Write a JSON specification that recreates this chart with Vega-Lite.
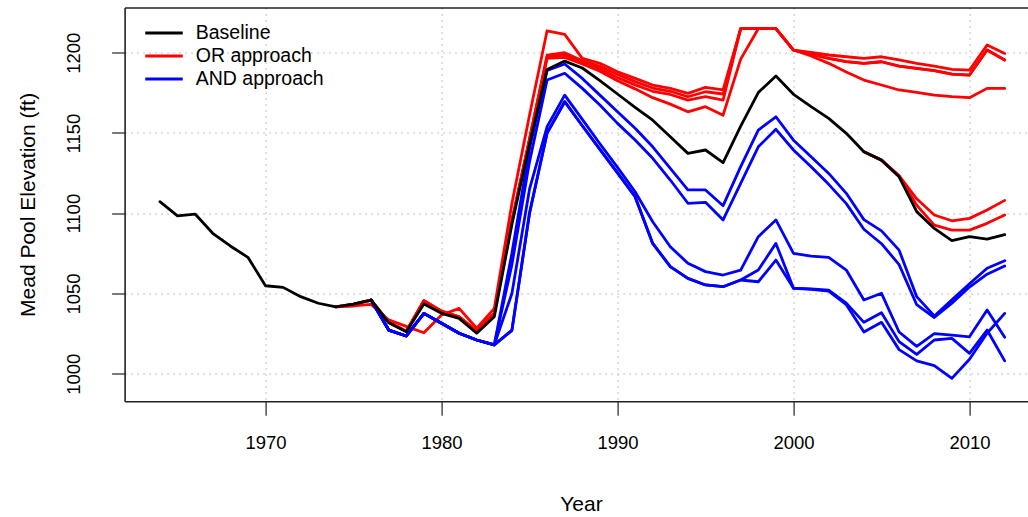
{
"$schema": "https://vega.github.io/schema/vega-lite/v6.json",
"width": 903.4, "height": 393.8,
"autosize": {"type": "none"},
"padding": {"left": 124.6, "top": 7.5, "right": 0, "bottom": 115.7},
"background": "white",
"config": {"view": {"stroke": null}, "font": "Liberation Sans"},
"data": {"values": [
{"run":"base","grp":"Baseline","year":1964,"ft":1107.2},{"run":"base","grp":"Baseline","year":1965,"ft":1098.4},{"run":"base","grp":"Baseline","year":1966,"ft":1099.5},{"run":"base","grp":"Baseline","year":1967,"ft":1087.5},{"run":"base","grp":"Baseline","year":1968,"ft":1079.6},{"run":"base","grp":"Baseline","year":1969,"ft":1072.5},{"run":"base","grp":"Baseline","year":1970,"ft":1054.8},{"run":"base","grp":"Baseline","year":1971,"ft":1053.8},{"run":"base","grp":"Baseline","year":1972,"ft":1048.0},{"run":"base","grp":"Baseline","year":1973,"ft":1043.9},{"run":"base","grp":"Baseline","year":1974,"ft":1041.7},{"run":"base","grp":"Baseline","year":1975,"ft":1043.4},{"run":"base","grp":"Baseline","year":1976,"ft":1045.9},{"run":"base","grp":"Baseline","year":1977,"ft":1031.8},{"run":"base","grp":"Baseline","year":1978,"ft":1026.2},{"run":"base","grp":"Baseline","year":1979,"ft":1043.4},{"run":"base","grp":"Baseline","year":1980,"ft":1037.6},{"run":"base","grp":"Baseline","year":1981,"ft":1034.5},{"run":"base","grp":"Baseline","year":1982,"ft":1025.2},{"run":"base","grp":"Baseline","year":1983,"ft":1035.5},{"run":"base","grp":"Baseline","year":1984,"ft":1093},{"run":"base","grp":"Baseline","year":1985,"ft":1143},{"run":"base","grp":"Baseline","year":1986,"ft":1189.6},{"run":"base","grp":"Baseline","year":1987,"ft":1194.8},{"run":"base","grp":"Baseline","year":1988,"ft":1190.5},{"run":"base","grp":"Baseline","year":1989,"ft":1182.6},{"run":"base","grp":"Baseline","year":1990,"ft":1174.3},{"run":"base","grp":"Baseline","year":1991,"ft":1166.0},{"run":"base","grp":"Baseline","year":1992,"ft":1158.0},{"run":"base","grp":"Baseline","year":1993,"ft":1147.7},{"run":"base","grp":"Baseline","year":1994,"ft":1137.3},{"run":"base","grp":"Baseline","year":1995,"ft":1139.4},{"run":"base","grp":"Baseline","year":1996,"ft":1131.5},{"run":"base","grp":"Baseline","year":1997,"ft":1154.3},{"run":"base","grp":"Baseline","year":1998,"ft":1175.2},{"run":"base","grp":"Baseline","year":1999,"ft":1185.5},{"run":"base","grp":"Baseline","year":2000,"ft":1174.1},{"run":"base","grp":"Baseline","year":2001,"ft":1166.4},{"run":"base","grp":"Baseline","year":2002,"ft":1159.1},{"run":"base","grp":"Baseline","year":2003,"ft":1149.8},{"run":"base","grp":"Baseline","year":2004,"ft":1138.3},{"run":"base","grp":"Baseline","year":2005,"ft":1133.1},{"run":"base","grp":"Baseline","year":2006,"ft":1122.7},{"run":"base","grp":"Baseline","year":2007,"ft":1101},{"run":"base","grp":"Baseline","year":2008,"ft":1090.5},{"run":"base","grp":"Baseline","year":2009,"ft":1082.9},{"run":"base","grp":"Baseline","year":2010,"ft":1085.4},{"run":"base","grp":"Baseline","year":2011,"ft":1083.9},{"run":"base","grp":"Baseline","year":2012,"ft":1086.6},

{"run":"or1","grp":"OR approach","year":1974,"ft":1041.7},{"run":"or1","grp":"OR approach","year":1975,"ft":1042.2},{"run":"or1","grp":"OR approach","year":1976,"ft":1043.2},{"run":"or1","grp":"OR approach","year":1977,"ft":1033.5},{"run":"or1","grp":"OR approach","year":1978,"ft":1029.5},{"run":"or1","grp":"OR approach","year":1979,"ft":1025.5},{"run":"or1","grp":"OR approach","year":1980,"ft":1036.6},{"run":"or1","grp":"OR approach","year":1981,"ft":1040.7},{"run":"or1","grp":"OR approach","year":1982,"ft":1028.3},{"run":"or1","grp":"OR approach","year":1983,"ft":1040.7},{"run":"or1","grp":"OR approach","year":1984,"ft":1106},{"run":"or1","grp":"OR approach","year":1985,"ft":1161},{"run":"or1","grp":"OR approach","year":1986,"ft":1213.7},{"run":"or1","grp":"OR approach","year":1987,"ft":1211.5},{"run":"or1","grp":"OR approach","year":1988,"ft":1196.5},{"run":"or1","grp":"OR approach","year":1989,"ft":1193.4},{"run":"or1","grp":"OR approach","year":1990,"ft":1188.2},{"run":"or1","grp":"OR approach","year":1991,"ft":1184},{"run":"or1","grp":"OR approach","year":1992,"ft":1179.9},{"run":"or1","grp":"OR approach","year":1993,"ft":1177.8},{"run":"or1","grp":"OR approach","year":1994,"ft":1174.7},{"run":"or1","grp":"OR approach","year":1995,"ft":1178.4},{"run":"or1","grp":"OR approach","year":1996,"ft":1176.8},{"run":"or1","grp":"OR approach","year":1997,"ft":1215},{"run":"or1","grp":"OR approach","year":1998,"ft":1215},{"run":"or1","grp":"OR approach","year":1999,"ft":1215},{"run":"or1","grp":"OR approach","year":2000,"ft":1201.7},{"run":"or1","grp":"OR approach","year":2001,"ft":1200.3},{"run":"or1","grp":"OR approach","year":2002,"ft":1198.6},{"run":"or1","grp":"OR approach","year":2003,"ft":1197.5},{"run":"or1","grp":"OR approach","year":2004,"ft":1196.5},{"run":"or1","grp":"OR approach","year":2005,"ft":1197.5},{"run":"or1","grp":"OR approach","year":2006,"ft":1195.5},{"run":"or1","grp":"OR approach","year":2007,"ft":1193.4},{"run":"or1","grp":"OR approach","year":2008,"ft":1191.7},{"run":"or1","grp":"OR approach","year":2009,"ft":1189.7},{"run":"or1","grp":"OR approach","year":2010,"ft":1189.2},{"run":"or1","grp":"OR approach","year":2011,"ft":1204.8},{"run":"or1","grp":"OR approach","year":2012,"ft":1199.6},

{"run":"or2","grp":"OR approach","year":1974,"ft":1041.7},{"run":"or2","grp":"OR approach","year":1975,"ft":1043.4},{"run":"or2","grp":"OR approach","year":1976,"ft":1045.9},{"run":"or2","grp":"OR approach","year":1977,"ft":1032},{"run":"or2","grp":"OR approach","year":1978,"ft":1026.5},{"run":"or2","grp":"OR approach","year":1979,"ft":1045.5},{"run":"or2","grp":"OR approach","year":1980,"ft":1039},{"run":"or2","grp":"OR approach","year":1981,"ft":1035.5},{"run":"or2","grp":"OR approach","year":1982,"ft":1026.5},{"run":"or2","grp":"OR approach","year":1983,"ft":1037.5},{"run":"or2","grp":"OR approach","year":1984,"ft":1095},{"run":"or2","grp":"OR approach","year":1985,"ft":1146},{"run":"or2","grp":"OR approach","year":1986,"ft":1198.5},{"run":"or2","grp":"OR approach","year":1987,"ft":1200},{"run":"or2","grp":"OR approach","year":1988,"ft":1195},{"run":"or2","grp":"OR approach","year":1989,"ft":1191.5},{"run":"or2","grp":"OR approach","year":1990,"ft":1186.5},{"run":"or2","grp":"OR approach","year":1991,"ft":1182},{"run":"or2","grp":"OR approach","year":1992,"ft":1178},{"run":"or2","grp":"OR approach","year":1993,"ft":1176},{"run":"or2","grp":"OR approach","year":1994,"ft":1172.6},{"run":"or2","grp":"OR approach","year":1995,"ft":1175.7},{"run":"or2","grp":"OR approach","year":1996,"ft":1174.3},{"run":"or2","grp":"OR approach","year":1997,"ft":1215},{"run":"or2","grp":"OR approach","year":1998,"ft":1215},{"run":"or2","grp":"OR approach","year":1999,"ft":1215},{"run":"or2","grp":"OR approach","year":2000,"ft":1201.7},{"run":"or2","grp":"OR approach","year":2001,"ft":1199.2},{"run":"or2","grp":"OR approach","year":2002,"ft":1196.5},{"run":"or2","grp":"OR approach","year":2003,"ft":1194.5},{"run":"or2","grp":"OR approach","year":2004,"ft":1193.4},{"run":"or2","grp":"OR approach","year":2005,"ft":1194.4},{"run":"or2","grp":"OR approach","year":2006,"ft":1191.7},{"run":"or2","grp":"OR approach","year":2007,"ft":1190.3},{"run":"or2","grp":"OR approach","year":2008,"ft":1188.8},{"run":"or2","grp":"OR approach","year":2009,"ft":1186.7},{"run":"or2","grp":"OR approach","year":2010,"ft":1186.1},{"run":"or2","grp":"OR approach","year":2011,"ft":1201.7},{"run":"or2","grp":"OR approach","year":2012,"ft":1195.5},

{"run":"or3","grp":"OR approach","year":1974,"ft":1041.7},{"run":"or3","grp":"OR approach","year":1975,"ft":1043.4},{"run":"or3","grp":"OR approach","year":1976,"ft":1045.9},{"run":"or3","grp":"OR approach","year":1977,"ft":1032},{"run":"or3","grp":"OR approach","year":1978,"ft":1026.5},{"run":"or3","grp":"OR approach","year":1979,"ft":1045.5},{"run":"or3","grp":"OR approach","year":1980,"ft":1039},{"run":"or3","grp":"OR approach","year":1981,"ft":1035.5},{"run":"or3","grp":"OR approach","year":1982,"ft":1026.5},{"run":"or3","grp":"OR approach","year":1983,"ft":1037.5},{"run":"or3","grp":"OR approach","year":1984,"ft":1095},{"run":"or3","grp":"OR approach","year":1985,"ft":1146},{"run":"or3","grp":"OR approach","year":1986,"ft":1197.5},{"run":"or3","grp":"OR approach","year":1987,"ft":1198.6},{"run":"or3","grp":"OR approach","year":1988,"ft":1194},{"run":"or3","grp":"OR approach","year":1989,"ft":1190},{"run":"or3","grp":"OR approach","year":1990,"ft":1184.5},{"run":"or3","grp":"OR approach","year":1991,"ft":1180},{"run":"or3","grp":"OR approach","year":1992,"ft":1176},{"run":"or3","grp":"OR approach","year":1993,"ft":1174},{"run":"or3","grp":"OR approach","year":1994,"ft":1170.5},{"run":"or3","grp":"OR approach","year":1995,"ft":1172.6},{"run":"or3","grp":"OR approach","year":1996,"ft":1170.5},{"run":"or3","grp":"OR approach","year":1997,"ft":1215},{"run":"or3","grp":"OR approach","year":1998,"ft":1215},{"run":"or3","grp":"OR approach","year":1999,"ft":1215},{"run":"or3","grp":"OR approach","year":2000,"ft":1201.7},{"run":"or3","grp":"OR approach","year":2001,"ft":1198},{"run":"or3","grp":"OR approach","year":2002,"ft":1193.4},{"run":"or3","grp":"OR approach","year":2003,"ft":1188},{"run":"or3","grp":"OR approach","year":2004,"ft":1183},{"run":"or3","grp":"OR approach","year":2005,"ft":1179.9},{"run":"or3","grp":"OR approach","year":2006,"ft":1176.8},{"run":"or3","grp":"OR approach","year":2007,"ft":1175.3},{"run":"or3","grp":"OR approach","year":2008,"ft":1173.6},{"run":"or3","grp":"OR approach","year":2009,"ft":1172.6},{"run":"or3","grp":"OR approach","year":2010,"ft":1172},{"run":"or3","grp":"OR approach","year":2011,"ft":1177.8},{"run":"or3","grp":"OR approach","year":2012,"ft":1177.8},

{"run":"or4","grp":"OR approach","year":1974,"ft":1041.7},{"run":"or4","grp":"OR approach","year":1975,"ft":1043.4},{"run":"or4","grp":"OR approach","year":1976,"ft":1045.9},{"run":"or4","grp":"OR approach","year":1977,"ft":1032},{"run":"or4","grp":"OR approach","year":1978,"ft":1026.5},{"run":"or4","grp":"OR approach","year":1979,"ft":1045.5},{"run":"or4","grp":"OR approach","year":1980,"ft":1039},{"run":"or4","grp":"OR approach","year":1981,"ft":1035.5},{"run":"or4","grp":"OR approach","year":1982,"ft":1026.5},{"run":"or4","grp":"OR approach","year":1983,"ft":1037.5},{"run":"or4","grp":"OR approach","year":1984,"ft":1095},{"run":"or4","grp":"OR approach","year":1985,"ft":1146},{"run":"or4","grp":"OR approach","year":1986,"ft":1196.5},{"run":"or4","grp":"OR approach","year":1987,"ft":1197.1},{"run":"or4","grp":"OR approach","year":1988,"ft":1193},{"run":"or4","grp":"OR approach","year":1989,"ft":1188.5},{"run":"or4","grp":"OR approach","year":1990,"ft":1182.5},{"run":"or4","grp":"OR approach","year":1991,"ft":1177.5},{"run":"or4","grp":"OR approach","year":1992,"ft":1172},{"run":"or4","grp":"OR approach","year":1993,"ft":1168},{"run":"or4","grp":"OR approach","year":1994,"ft":1163.2},{"run":"or4","grp":"OR approach","year":1995,"ft":1166.4},{"run":"or4","grp":"OR approach","year":1996,"ft":1161.1},{"run":"or4","grp":"OR approach","year":1997,"ft":1196},{"run":"or4","grp":"OR approach","year":1998,"ft":1215},{"run":"or4","grp":"OR approach","year":1999,"ft":1215},{"run":"or4","grp":"OR approach","year":2000,"ft":1201.7},{"run":"or4","grp":"OR approach","year":2001,"ft":1199.2},{"run":"or4","grp":"OR approach","year":2002,"ft":1196.5},{"run":"or4","grp":"OR approach","year":2003,"ft":1194.5},{"run":"or4","grp":"OR approach","year":2004,"ft":1193.4},{"run":"or4","grp":"OR approach","year":2005,"ft":1194.4},{"run":"or4","grp":"OR approach","year":2006,"ft":1191.7},{"run":"or4","grp":"OR approach","year":2007,"ft":1190.3},{"run":"or4","grp":"OR approach","year":2008,"ft":1188.8},{"run":"or4","grp":"OR approach","year":2009,"ft":1186.7},{"run":"or4","grp":"OR approach","year":2010,"ft":1186.1},{"run":"or4","grp":"OR approach","year":2011,"ft":1201.7},{"run":"or4","grp":"OR approach","year":2012,"ft":1195.5},

{"run":"or5","grp":"OR approach","year":2004,"ft":1138.3},{"run":"or5","grp":"OR approach","year":2005,"ft":1133.1},{"run":"or5","grp":"OR approach","year":2006,"ft":1123.5},{"run":"or5","grp":"OR approach","year":2007,"ft":1109},{"run":"or5","grp":"OR approach","year":2008,"ft":1098.9},{"run":"or5","grp":"OR approach","year":2009,"ft":1095.3},{"run":"or5","grp":"OR approach","year":2010,"ft":1096.8},{"run":"or5","grp":"OR approach","year":2011,"ft":1102},{"run":"or5","grp":"OR approach","year":2012,"ft":1108},
{"run":"or6","grp":"OR approach","year":2004,"ft":1138.3},{"run":"or6","grp":"OR approach","year":2005,"ft":1133.1},{"run":"or6","grp":"OR approach","year":2006,"ft":1123},{"run":"or6","grp":"OR approach","year":2007,"ft":1105},{"run":"or6","grp":"OR approach","year":2008,"ft":1092.6},{"run":"or6","grp":"OR approach","year":2009,"ft":1089.5},{"run":"or6","grp":"OR approach","year":2010,"ft":1089.5},{"run":"or6","grp":"OR approach","year":2011,"ft":1093.7},{"run":"or6","grp":"OR approach","year":2012,"ft":1098.9},

{"run":"and1","grp":"AND approach","year":1976,"ft":1045.9},{"run":"and1","grp":"AND approach","year":1977,"ft":1027.2},{"run":"and1","grp":"AND approach","year":1978,"ft":1023.5},{"run":"and1","grp":"AND approach","year":1979,"ft":1037.6},{"run":"and1","grp":"AND approach","year":1980,"ft":1031.4},{"run":"and1","grp":"AND approach","year":1981,"ft":1025.2},{"run":"and1","grp":"AND approach","year":1982,"ft":1021},{"run":"and1","grp":"AND approach","year":1983,"ft":1018},{"run":"and1","grp":"AND approach","year":1984,"ft":1075},{"run":"and1","grp":"AND approach","year":1985,"ft":1140},{"run":"and1","grp":"AND approach","year":1986,"ft":1189},{"run":"and1","grp":"AND approach","year":1987,"ft":1193},{"run":"and1","grp":"AND approach","year":1988,"ft":1184},{"run":"and1","grp":"AND approach","year":1989,"ft":1173.6},{"run":"and1","grp":"AND approach","year":1990,"ft":1163.2},{"run":"and1","grp":"AND approach","year":1991,"ft":1152.9},{"run":"and1","grp":"AND approach","year":1992,"ft":1141.4},{"run":"and1","grp":"AND approach","year":1993,"ft":1128},{"run":"and1","grp":"AND approach","year":1994,"ft":1114.5},{"run":"and1","grp":"AND approach","year":1995,"ft":1114.5},{"run":"and1","grp":"AND approach","year":1996,"ft":1104.7},{"run":"and1","grp":"AND approach","year":1997,"ft":1129},{"run":"and1","grp":"AND approach","year":1998,"ft":1151.8},{"run":"and1","grp":"AND approach","year":1999,"ft":1160.1},{"run":"and1","grp":"AND approach","year":2000,"ft":1145.5},{"run":"and1","grp":"AND approach","year":2001,"ft":1135.2},{"run":"and1","grp":"AND approach","year":2002,"ft":1124.8},{"run":"and1","grp":"AND approach","year":2003,"ft":1112.4},{"run":"and1","grp":"AND approach","year":2004,"ft":1096},{"run":"and1","grp":"AND approach","year":2005,"ft":1089},{"run":"and1","grp":"AND approach","year":2006,"ft":1077},{"run":"and1","grp":"AND approach","year":2007,"ft":1048},{"run":"and1","grp":"AND approach","year":2008,"ft":1036},{"run":"and1","grp":"AND approach","year":2009,"ft":1046},{"run":"and1","grp":"AND approach","year":2010,"ft":1056},{"run":"and1","grp":"AND approach","year":2011,"ft":1065.7},{"run":"and1","grp":"AND approach","year":2012,"ft":1070.4},

{"run":"and2","grp":"AND approach","year":1976,"ft":1045.9},{"run":"and2","grp":"AND approach","year":1977,"ft":1027.2},{"run":"and2","grp":"AND approach","year":1978,"ft":1023.5},{"run":"and2","grp":"AND approach","year":1979,"ft":1037.6},{"run":"and2","grp":"AND approach","year":1980,"ft":1031.4},{"run":"and2","grp":"AND approach","year":1981,"ft":1025.2},{"run":"and2","grp":"AND approach","year":1982,"ft":1021},{"run":"and2","grp":"AND approach","year":1983,"ft":1018},{"run":"and2","grp":"AND approach","year":1984,"ft":1068},{"run":"and2","grp":"AND approach","year":1985,"ft":1132},{"run":"and2","grp":"AND approach","year":1986,"ft":1183},{"run":"and2","grp":"AND approach","year":1987,"ft":1187.2},{"run":"and2","grp":"AND approach","year":1988,"ft":1177.8},{"run":"and2","grp":"AND approach","year":1989,"ft":1167.4},{"run":"and2","grp":"AND approach","year":1990,"ft":1156},{"run":"and2","grp":"AND approach","year":1991,"ft":1145.6},{"run":"and2","grp":"AND approach","year":1992,"ft":1134.2},{"run":"and2","grp":"AND approach","year":1993,"ft":1120.7},{"run":"and2","grp":"AND approach","year":1994,"ft":1106.2},{"run":"and2","grp":"AND approach","year":1995,"ft":1106.8},{"run":"and2","grp":"AND approach","year":1996,"ft":1095.8},{"run":"and2","grp":"AND approach","year":1997,"ft":1118.6},{"run":"and2","grp":"AND approach","year":1998,"ft":1141.4},{"run":"and2","grp":"AND approach","year":1999,"ft":1152.3},{"run":"and2","grp":"AND approach","year":2000,"ft":1139.4},{"run":"and2","grp":"AND approach","year":2001,"ft":1129},{"run":"and2","grp":"AND approach","year":2002,"ft":1118},{"run":"and2","grp":"AND approach","year":2003,"ft":1106},{"run":"and2","grp":"AND approach","year":2004,"ft":1090},{"run":"and2","grp":"AND approach","year":2005,"ft":1081},{"run":"and2","grp":"AND approach","year":2006,"ft":1068},{"run":"and2","grp":"AND approach","year":2007,"ft":1043},{"run":"and2","grp":"AND approach","year":2008,"ft":1035},{"run":"and2","grp":"AND approach","year":2009,"ft":1044},{"run":"and2","grp":"AND approach","year":2010,"ft":1054},{"run":"and2","grp":"AND approach","year":2011,"ft":1062},{"run":"and2","grp":"AND approach","year":2012,"ft":1067.1},

{"run":"and3","grp":"AND approach","year":1976,"ft":1045.9},{"run":"and3","grp":"AND approach","year":1977,"ft":1027.2},{"run":"and3","grp":"AND approach","year":1978,"ft":1023.5},{"run":"and3","grp":"AND approach","year":1979,"ft":1037.6},{"run":"and3","grp":"AND approach","year":1980,"ft":1031.4},{"run":"and3","grp":"AND approach","year":1981,"ft":1025.2},{"run":"and3","grp":"AND approach","year":1982,"ft":1021},{"run":"and3","grp":"AND approach","year":1983,"ft":1018},{"run":"and3","grp":"AND approach","year":1984,"ft":1050},{"run":"and3","grp":"AND approach","year":1985,"ft":1115},{"run":"and3","grp":"AND approach","year":1986,"ft":1154},{"run":"and3","grp":"AND approach","year":1987,"ft":1173.6},{"run":"and3","grp":"AND approach","year":1988,"ft":1158.5},{"run":"and3","grp":"AND approach","year":1989,"ft":1143.3},{"run":"and3","grp":"AND approach","year":1990,"ft":1128.6},{"run":"and3","grp":"AND approach","year":1991,"ft":1113.4},{"run":"and3","grp":"AND approach","year":1992,"ft":1094.7},{"run":"and3","grp":"AND approach","year":1993,"ft":1079.1},{"run":"and3","grp":"AND approach","year":1994,"ft":1068.8},{"run":"and3","grp":"AND approach","year":1995,"ft":1063.6},{"run":"and3","grp":"AND approach","year":1996,"ft":1061.5},{"run":"and3","grp":"AND approach","year":1997,"ft":1064.6},{"run":"and3","grp":"AND approach","year":1998,"ft":1085.4},{"run":"and3","grp":"AND approach","year":1999,"ft":1095.8},{"run":"and3","grp":"AND approach","year":2000,"ft":1075},{"run":"and3","grp":"AND approach","year":2001,"ft":1073.3},{"run":"and3","grp":"AND approach","year":2002,"ft":1072.5},{"run":"and3","grp":"AND approach","year":2003,"ft":1064.6},{"run":"and3","grp":"AND approach","year":2004,"ft":1045.9},{"run":"and3","grp":"AND approach","year":2005,"ft":1050.1},{"run":"and3","grp":"AND approach","year":2006,"ft":1026},{"run":"and3","grp":"AND approach","year":2007,"ft":1017},{"run":"and3","grp":"AND approach","year":2008,"ft":1025},{"run":"and3","grp":"AND approach","year":2009,"ft":1024.1},{"run":"and3","grp":"AND approach","year":2010,"ft":1023},{"run":"and3","grp":"AND approach","year":2011,"ft":1039.7},{"run":"and3","grp":"AND approach","year":2012,"ft":1022.7},

{"run":"and4","grp":"AND approach","year":1976,"ft":1045.9},{"run":"and4","grp":"AND approach","year":1977,"ft":1027.2},{"run":"and4","grp":"AND approach","year":1978,"ft":1023.5},{"run":"and4","grp":"AND approach","year":1979,"ft":1037.6},{"run":"and4","grp":"AND approach","year":1980,"ft":1031.4},{"run":"and4","grp":"AND approach","year":1981,"ft":1025.2},{"run":"and4","grp":"AND approach","year":1982,"ft":1021},{"run":"and4","grp":"AND approach","year":1983,"ft":1018},{"run":"and4","grp":"AND approach","year":1984,"ft":1027},{"run":"and4","grp":"AND approach","year":1985,"ft":1100},{"run":"and4","grp":"AND approach","year":1986,"ft":1150},{"run":"and4","grp":"AND approach","year":1987,"ft":1169.5},{"run":"and4","grp":"AND approach","year":1988,"ft":1154.5},{"run":"and4","grp":"AND approach","year":1989,"ft":1139.8},{"run":"and4","grp":"AND approach","year":1990,"ft":1125.2},{"run":"and4","grp":"AND approach","year":1991,"ft":1110.3},{"run":"and4","grp":"AND approach","year":1992,"ft":1081.2},{"run":"and4","grp":"AND approach","year":1993,"ft":1066.7},{"run":"and4","grp":"AND approach","year":1994,"ft":1059.4},{"run":"and4","grp":"AND approach","year":1995,"ft":1055.3},{"run":"and4","grp":"AND approach","year":1996,"ft":1054.2},{"run":"and4","grp":"AND approach","year":1997,"ft":1058.4},{"run":"and4","grp":"AND approach","year":1998,"ft":1064.6},{"run":"and4","grp":"AND approach","year":1999,"ft":1081.2},{"run":"and4","grp":"AND approach","year":2000,"ft":1053.3},{"run":"and4","grp":"AND approach","year":2001,"ft":1052.8},{"run":"and4","grp":"AND approach","year":2002,"ft":1052},{"run":"and4","grp":"AND approach","year":2003,"ft":1044},{"run":"and4","grp":"AND approach","year":2004,"ft":1032},{"run":"and4","grp":"AND approach","year":2005,"ft":1038},{"run":"and4","grp":"AND approach","year":2006,"ft":1020},{"run":"and4","grp":"AND approach","year":2007,"ft":1012},{"run":"and4","grp":"AND approach","year":2008,"ft":1021},{"run":"and4","grp":"AND approach","year":2009,"ft":1022},{"run":"and4","grp":"AND approach","year":2010,"ft":1012.7},{"run":"and4","grp":"AND approach","year":2011,"ft":1027.2},{"run":"and4","grp":"AND approach","year":2012,"ft":1008},

{"run":"and5","grp":"AND approach","year":1976,"ft":1045.9},{"run":"and5","grp":"AND approach","year":1977,"ft":1027.2},{"run":"and5","grp":"AND approach","year":1978,"ft":1023.5},{"run":"and5","grp":"AND approach","year":1979,"ft":1037.6},{"run":"and5","grp":"AND approach","year":1980,"ft":1031.4},{"run":"and5","grp":"AND approach","year":1981,"ft":1025.2},{"run":"and5","grp":"AND approach","year":1982,"ft":1021},{"run":"and5","grp":"AND approach","year":1983,"ft":1018},{"run":"and5","grp":"AND approach","year":1984,"ft":1027},{"run":"and5","grp":"AND approach","year":1985,"ft":1100},{"run":"and5","grp":"AND approach","year":1986,"ft":1150},{"run":"and5","grp":"AND approach","year":1987,"ft":1169.5},{"run":"and5","grp":"AND approach","year":1988,"ft":1154.5},{"run":"and5","grp":"AND approach","year":1989,"ft":1139.8},{"run":"and5","grp":"AND approach","year":1990,"ft":1125.2},{"run":"and5","grp":"AND approach","year":1991,"ft":1110.3},{"run":"and5","grp":"AND approach","year":1992,"ft":1081.2},{"run":"and5","grp":"AND approach","year":1993,"ft":1066.7},{"run":"and5","grp":"AND approach","year":1994,"ft":1059.4},{"run":"and5","grp":"AND approach","year":1995,"ft":1055.3},{"run":"and5","grp":"AND approach","year":1996,"ft":1054.2},{"run":"and5","grp":"AND approach","year":1997,"ft":1058.4},{"run":"and5","grp":"AND approach","year":1998,"ft":1057.3},{"run":"and5","grp":"AND approach","year":1999,"ft":1070.8},{"run":"and5","grp":"AND approach","year":2000,"ft":1053.2},{"run":"and5","grp":"AND approach","year":2001,"ft":1052.5},{"run":"and5","grp":"AND approach","year":2002,"ft":1051.5},{"run":"and5","grp":"AND approach","year":2003,"ft":1043},{"run":"and5","grp":"AND approach","year":2004,"ft":1026},{"run":"and5","grp":"AND approach","year":2005,"ft":1032},{"run":"and5","grp":"AND approach","year":2006,"ft":1015},{"run":"and5","grp":"AND approach","year":2007,"ft":1008},{"run":"and5","grp":"AND approach","year":2008,"ft":1005},{"run":"and5","grp":"AND approach","year":2009,"ft":997.1},{"run":"and5","grp":"AND approach","year":2010,"ft":1009},{"run":"and5","grp":"AND approach","year":2011,"ft":1025.2},{"run":"and5","grp":"AND approach","year":2012,"ft":1037.6}
]},
"encoding": {
  "y": {"field": "ft", "type": "quantitative",
        "scale": {"domain": [982.8, 1228.2], "nice": false, "zero": false},
        "axis": {"orient": "left", "values": [1000, 1050, 1100, 1150, 1200], "format": "d",
                 "grid": true, "gridColor": "#c4c4c4", "gridDash": [2, 4], "gridWidth": 1,
                 "domainColor": "#222222", "domainWidth": 1.6,
                 "tickColor": "#222222", "tickSize": 13, "tickWidth": 1.2,
                 "labelFont": "Liberation Sans", "labelFontSize": 18.5, "labelColor": "#000000",
                 "labelAngle": -90, "labelAlign": "center", "labelBaseline": "alphabetic", "labelPadding": 32,
                 "labelFlush": false, "labelOverlap": false,
                 "title": "Mead Pool Elevation (ft)", "titleFont": "Liberation Sans", "titleFontSize": 21,
                 "titleFontWeight": "normal", "titleColor": "#000000", "titleAngle": -90,
                 "titleAlign": "center", "titleBaseline": "alphabetic", "titleX": -89.8, "titleY": 196.9}},
  "color": {"field": "grp", "type": "nominal",
            "scale": {"domain": ["Baseline", "OR approach", "AND approach"], "range": ["#000000", "#ff0000", "#0000ff"]},
            "legend": {"orient": "none", "legendX": 29.65, "legendY": 15.8, "title": null, "padding": 0,
                       "symbolType": "M-3,0H3", "symbolSize": 156, "symbolStrokeWidth": 3,
                       "labelFont": "Liberation Sans", "labelFontSize": 19.5, "labelColor": "#000000",
                       "labelOffset": 22, "rowPadding": 2, "labelLimit": 400}},
  "detail": {"field": "run", "type": "nominal"}
},
"layer": [
  {"transform": [{"filter": "datum.grp === 'OR approach'"}],
   "mark": {"type": "line", "strokeWidth": 2.8, "strokeJoin": "round", "strokeCap": "round"},
   "encoding": {"x": {"field": "year", "type": "quantitative",
        "scale": {"domain": [1961.994, 2013.324], "nice": false, "zero": false},
        "axis": {"orient": "bottom", "values": [1970, 1980, 1990, 2000, 2010], "format": "d",
                 "grid": true, "gridColor": "#c4c4c4", "gridDash": [2, 4], "gridWidth": 1,
                 "domainColor": "#222222", "domainWidth": 1.6,
                 "tickColor": "#222222", "tickSize": 14, "tickWidth": 1.2,
                 "labelFont": "Liberation Sans", "labelFontSize": 18.5, "labelColor": "#000000",
                 "labelBaseline": "alphabetic", "labelPadding": 32.7, "labelFlush": false, "labelOverlap": false,
                 "title": "Year", "titleFont": "Liberation Sans", "titleFontSize": 21, "titleFontWeight": "normal",
                 "titleColor": "#000000", "titleBaseline": "alphabetic", "titleAlign": "center",
                 "titleX": 456.4, "titleY": 109.5}}}},
  {"transform": [{"filter": "datum.grp === 'AND approach'"}],
   "mark": {"type": "line", "strokeWidth": 2.8, "strokeJoin": "round", "strokeCap": "round"},
   "encoding": {"x": {"field": "year", "type": "quantitative",
        "scale": {"domain": [1961.994, 2013.324], "nice": false, "zero": false}, "axis": null}}},
  {"transform": [{"filter": "datum.grp === 'Baseline'"}],
   "mark": {"type": "line", "strokeWidth": 2.8, "strokeJoin": "round", "strokeCap": "round"},
   "encoding": {"x": {"field": "year", "type": "quantitative",
        "scale": {"domain": [1961.994, 2013.324], "nice": false, "zero": false},
        "axis": {"orient": "top", "labels": false, "ticks": false, "grid": false, "title": null,
                 "domainColor": "#222222", "domainWidth": 1.6}}}}
],
"resolve": {"axis": {"x": "independent"}}
}
